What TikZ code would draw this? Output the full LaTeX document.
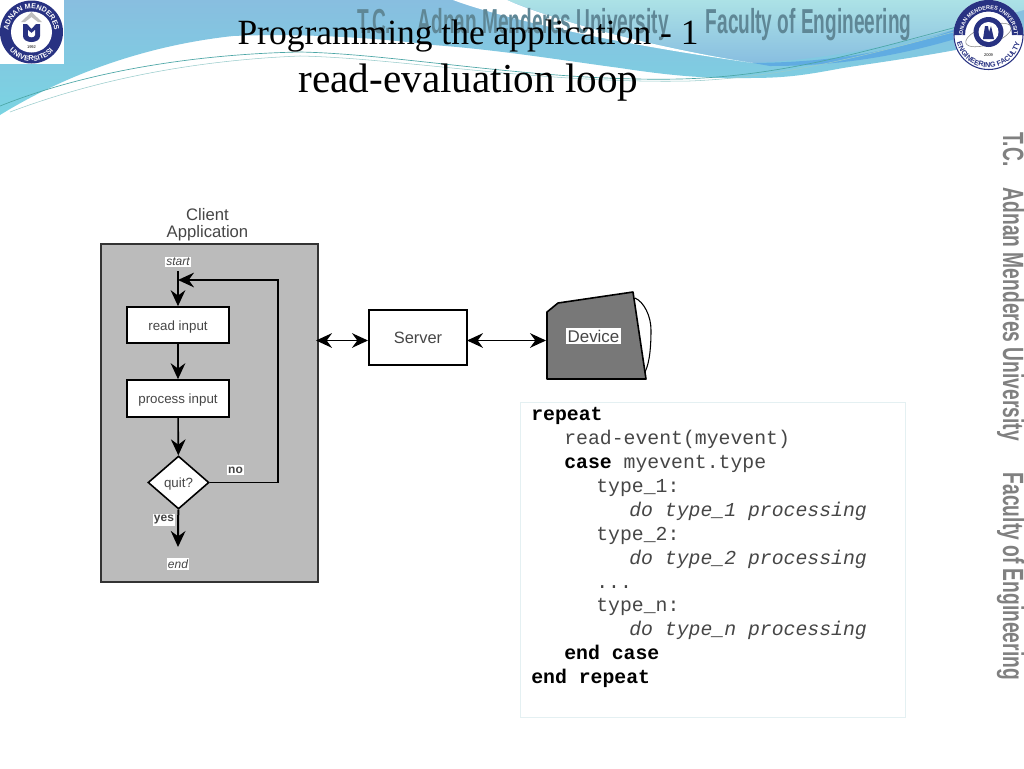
\documentclass[tikz,border=0pt]{standalone}
\usepackage{fontspec}
\setmainfont{Liberation Serif}
\setsansfont{Liberation Sans}
\setmonofont{Liberation Mono}
\usetikzlibrary{arrows.meta,shapes.geometric,decorations.text}
\definecolor{bandteal}{RGB}{122,212,226}
\definecolor{bandblue}{RGB}{136,190,224}
\definecolor{bandpale}{RGB}{172,226,230}
\definecolor{banddeep}{RGB}{96,172,226}
\definecolor{fadetext}{RGB}{95,135,150}
\definecolor{logonavy}{RGB}{40,50,130}
\definecolor{clientgray}{RGB}{187,187,187}
\definecolor{devicegray}{RGB}{120,120,120}
\definecolor{labelgray}{RGB}{70,70,70}
\definecolor{codeedge}{RGB}{228,240,242}
\tikzset{
  flowbox/.style={draw=black,fill=white,line width=1.2pt,inner sep=0,text height=9.5pt,text depth=2pt,font=\sffamily\fontsize{10}{12}\selectfont,text=labelgray},
  tag/.style={fill=white,inner sep=1pt,font=\sffamily\fontsize{9}{10}\selectfont,text=labelgray},
  flow/.style={line width=1.2pt,-{Stealth[inset=4pt,length=12pt,width=11pt]}},
  link/.style={line width=1pt,{Stealth[inset=4pt,length=12pt,width=11pt]}-{Stealth[inset=4pt,length=12pt,width=11pt]}},
  codeline/.style={anchor=base west,inner sep=0pt,text=labelgray,font=\ttfamily\fontsize{14.85}{16}\selectfont},
  ringtext/.style n args={3}{decorate,decoration={text along path,text align=center,
    text={|\sffamily\bfseries\fontsize{#1}{#1}\selectfont\color{#2}|#3}}},
  fadelabel/.style={inner sep=0,anchor=base west,font=\sffamily\bfseries\fontsize{#1}{#1}\selectfont},
}
\begin{document}
\begin{tikzpicture}[x=.75pt,y=-.75pt]
\useasboundingbox (0,0) rectangle (1024,768);
\fill[white] (0,0) rectangle (1024,768);
% header bands
\shade[top color=bandblue,middle color=bandteal,bottom color=bandteal] (0,0) -- (1024,0) -- (1024,35) .. controls (960,52) and (880,62) .. (843,68)
  .. controls (810,74) and (790,78) .. (750,78) .. controls (700,79) and (660,74) .. (620,68)
  .. controls (560,60) and (500,50) .. (433,45) .. controls (380,38) and (300,33) .. (233,36)
  .. controls (150,45) and (70,72) .. (0,115) -- cycle;
\shade[top color=bandpale,bottom color=bandblue] (507,0) -- (1024,0) -- (1024,10) .. controls (960,28) and (860,58) .. (753,63)
  .. controls (680,50) and (580,30) .. (507,0) -- cycle;
\fill[banddeep] (753,63) .. controls (840,62) and (900,50) .. (965,26) -- (965,36) .. controls (900,56) and (840,66) .. (770,66) -- cycle;
\fill[white] (453,0) .. controls (490,14) and (560,30) .. (613,40) .. controls (660,49) and (710,57) .. (753,63)
  .. controls (700,55) and (620,38) .. (563,20) .. controls (540,13) and (520,6) .. (507,0) -- cycle;
\draw[teal!70,line width=.5pt] (0,106) .. controls (90,70) and (200,54) .. (300,52) .. controls (400,54) and (540,82) .. (680,79) .. controls (800,76) and (900,40) .. (1000,16);
\draw[teal!40,line width=.4pt] (10,112) .. controls (100,78) and (200,60) .. (300,56) .. controls (400,58) and (540,84) .. (690,81) .. controls (810,76) and (900,44) .. (1010,18);
% faded header text
\node[fadelabel=26,text=fadetext] (hdrtext) at (357,33) {\scalebox{.55}[1]{T.C.\ \ \ \ \ Adnan Menderes University\ \ \ \ \ \ \ Faculty of Engineering}};
% faded side text
\node[fadelabel=22,text=gray,rotate=-90] (sidetext) at (1003,132) {\scalebox{.655}[1]{T.C.\ \ \ \ Adnan Menderes University\ \ \ \ \ \ Faculty of Engineering}};
% left logo
\fill[white] (0,0) rectangle (64,64);
\fill[logonavy] (31.5,32) circle (31.5);
\fill[white] (31.5,32) circle (20.5);
\path[ringtext={5.4}{white}{ADNAN MENDERES}] (31.5,32) ++(165:23) arc[start angle=165,end angle=375,radius=23];
\path[ringtext={5.4}{white}{UNIVERSITESI}] (31.5,32) ++(165:29) arc[start angle=165,end angle=15,radius=29];
\fill[gray!50] (31.5,12) -- (42,22) -- (38,22) -- (31.5,17) -- (25,22) -- (21,22) -- cycle;
\fill[logonavy] (23,24) -- (23,36) .. controls (23,44) and (40,44) .. (40,36) -- (40,24) -- (36,24) -- (31.5,29) -- (27,24) -- cycle;
\fill[white] (28,30) -- (28,35) .. controls (28,38) and (35,38) .. (35,35) -- (35,30) -- (31.5,33) -- cycle;
\node[font=\sffamily\fontsize{3}{3}\selectfont,inner sep=0] (founded) at (31.5,47) {1992};
% right logo
\fill[white] (988.5,35) circle (35);
\draw[logonavy,line width=.8pt] (988.5,35) circle (34.5);
\fill[logonavy] (954,35) arc[start angle=180,end angle=360,radius=34.5] -- (1012,35) arc[start angle=360,end angle=180,radius=23.5] -- cycle;
\path[ringtext={4.1}{white}{ADNAN MENDERES UNIVERSITY}] (988.5,35) ++(165:25.5) arc[start angle=165,end angle=375,radius=25.5];
\path[ringtext={5.4}{logonavy}{ENGINEERING FACULTY}] (988.5,35) ++(190:32.5) arc[start angle=190,end angle=-10,radius=32.5];
\draw[gray,line width=.4pt,rotate around={20:(988.5,35)}] (988.5,35) ellipse (24 and 9);
\fill[logonavy] (988.5,32) circle (15);
\fill[white] (988.5,32) circle (10);
\fill[logonavy] (983,39) -- (985,26) -- (988,26) -- (989,32) -- (991,26) -- (994,39) -- cycle;
\node[font=\sffamily\fontsize{3}{3}\selectfont,inner sep=0] (estab) at (988.5,55) {2009};
% title
\node[anchor=base,inner sep=0,font=\fontsize{26.6}{30}\selectfont] (title) at (468,44.5) {Programming the application - 1};
\node[anchor=base,inner sep=0,font=\fontsize{30.9}{34}\selectfont] (subtitle) at (468.5,92.5) {read-evaluation loop};
% client block
\node[draw=black!80,fill=clientgray,line width=1.3pt,minimum width=162.75pt,minimum height=253.5pt,inner sep=0,anchor=north west] (client) at (100,243) {};
\node[align=center,inner sep=0,text=labelgray,font=\sffamily\fontsize{12.5}{12.5}\selectfont] (clienttitle) at (207.5,225) {Client\\Application};
\node[tag,font=\sffamily\itshape\fontsize{9}{10}\selectfont] (start) at (178,262) {start};
\node[flowbox,minimum width=76.5pt,minimum height=27pt] (read) at (178,325) {read input};
\node[flowbox,minimum width=76.5pt,minimum height=27.75pt] (process) at (178,398.5) {process input};
\node[flowbox,diamond,aspect=1.15,minimum width=45.75pt,minimum height=39.75pt] (quit) at (178.5,482.5) {quit?};
\node[tag,font=\sffamily\itshape\fontsize{9}{10}\selectfont] (end) at (178,564) {end};
\node[tag,font=\sffamily\bfseries\fontsize{9}{10}\selectfont] (no) at (235.5,470) {no};
\node[tag,font=\sffamily\bfseries\fontsize{9}{10}\selectfont] (yes) at (164,520) {yes};
\coordinate (startout) at (178,271);
\coordinate (joint) at (178,280);
\coordinate (corner) at (278,280);
\coordinate (endin) at (178,547);
\draw[line width=1.2pt] (startout) -- (joint);
\draw[flow] (joint) -- (read);
\draw[flow] (read) -- (process);
\draw[flow] (process) -- (quit);
\draw[flow,line width=1.5pt] (quit) -- (endin);
\draw[flow] (quit.east) -| (corner) -- (joint);
% server and device
\node[draw=black,fill=white,line width=1.2pt,minimum width=73.5pt,minimum height=41.25pt,inner sep=0,text=labelgray,font=\sffamily\fontsize{12.3}{14}\selectfont] (server) at (418,337.5) {Server};
\coordinate (clientport) at (316,340.5);
\coordinate (serverport) at (368,340.5);
\coordinate (serverout) at (467,340.5);
\coordinate (deviceport) at (546,340.5);
\filldraw[fill=devicegray,draw=black,line width=1.2pt,line join=round] (547,379) -- (547,312) -- (558,303) -- (633,292) -- (646,379) -- cycle;
\draw[black,line width=.8pt] (635,298) .. controls (644,302) and (651,316) .. (651,330) .. controls (651,345) and (650,362) .. (645,372);
\node[fill=white,inner sep=1pt,text=labelgray,font=\sffamily\fontsize{12.7}{15}\selectfont] (device) at (593.5,336) {Device};
\draw[link] (clientport) -- (serverport);
\draw[link] (serverout) -- (deviceport);
% code panel
\node[draw=codeedge,fill=white,line width=.8pt,minimum width=288.75pt,minimum height=236.25pt,inner sep=0,anchor=north west] (panel) at (520,402) {};
\node[codeline,text=black] (l1) at (531,420) {\textbf{repeat}};
\node[codeline] (l2) at (564,444) {read-event(myevent)};
\node[codeline] (l3) at (564,468) {\textbf{\textcolor{black}{case}} myevent.type};
\node[codeline] (l4) at (596,492) {type\_1:};
\node[codeline] (l5) at (629,516) {\textit{do type\_1 processing}};
\node[codeline] (l6) at (596,540) {type\_2:};
\node[codeline] (l7) at (629,564) {\textit{do type\_2 processing}};
\node[codeline] (l8) at (596,588) {...};
\node[codeline] (l9) at (596,611) {type\_n:};
\node[codeline] (l10) at (629,635) {\textit{do type\_n processing}};
\node[codeline,text=black] (l11) at (564,659) {\textbf{end case}};
\node[codeline,text=black] (l12) at (531,683) {\textbf{end repeat}};
\end{tikzpicture}
\end{document}
